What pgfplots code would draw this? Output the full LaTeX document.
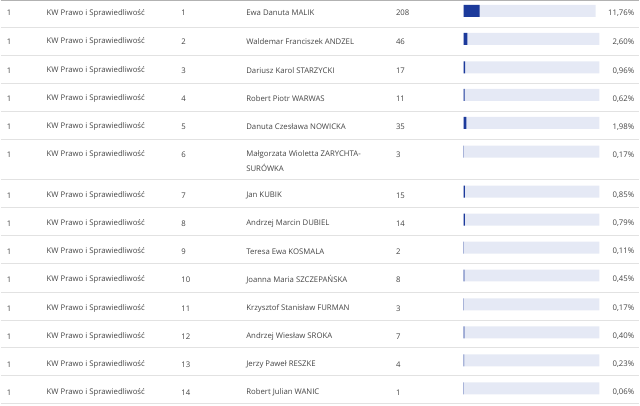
\documentclass[border=0pt]{standalone}
\usepackage{fontspec}
\setmainfont{Open Sans}
\usepackage{pgfplots}
\usepackage{pgfplotstable}
\pgfplotsset{compat=1.18}
\definecolor{txt}{HTML}{444444}
\definecolor{barblue}{HTML}{1C3A9B}
\definecolor{track}{HTML}{E5E9F5}
\definecolor{sep}{HTML}{E2E2E2}

% one row per candidate: text y, bar y (pixels from top), columns of the table
\pgfplotstableread[col sep=semicolon,row sep=\\]{
ty;by;okr;kw;nr;glosy;pct;tor\\
13;11;1;KW Prawo i Sprawiedliwość;1;208;11.76;97.1\\
42;39;1;KW Prawo i Sprawiedliwość;2;46;2.60;100\\
71;67.5;1;KW Prawo i Sprawiedliwość;3;17;0.96;100\\
99;95;1;KW Prawo i Sprawiedliwość;4;11;0.62;100\\
127;123;1;KW Prawo i Sprawiedliwość;5;35;1.98;100\\
155;152;1;KW Prawo i Sprawiedliwość;6;3;0.17;100\\
196;192;1;KW Prawo i Sprawiedliwość;7;15;0.85;100\\
224;220;1;KW Prawo i Sprawiedliwość;8;14;0.79;100\\
252;248;1;KW Prawo i Sprawiedliwość;9;2;0.11;100\\
280;276;1;KW Prawo i Sprawiedliwość;10;8;0.45;100\\
309;305;1;KW Prawo i Sprawiedliwość;11;3;0.17;100\\
337;333;1;KW Prawo i Sprawiedliwość;12;7;0.40;100\\
365;361;1;KW Prawo i Sprawiedliwość;13;4;0.23;100\\
393;389;1;KW Prawo i Sprawiedliwość;14;1;0.06;100\\
}\rows

% names, one line each
\pgfplotstableread[col sep=semicolon,row sep=\\]{
ty;name\\
13;Ewa Danuta MALIK\\
42;Waldemar Franciszek ANDZEL\\
71;Dariusz Karol STARZYCKI\\
99;Robert Piotr WARWAS\\
127;Danuta Czesława NOWICKA\\
155;Małgorzata Wioletta ZARYCHTA-\\
168;SURÓWKA\\
196;Jan KUBIK\\
224;Andrzej Marcin DUBIEL\\
252;Teresa Ewa KOSMALA\\
280;Joanna Maria SZCZEPAŃSKA\\
309;Krzysztof Stanisław FURMAN\\
337;Andrzej Wiesław SROKA\\
365;Jerzy Paweł RESZKE\\
393;Robert Julian WANIC\\
}\names

\pgfplotsset{
  frame/.style={scale only axis, width=640bp, height=406bp,
    ymin=0, ymax=406, y dir=reverse,
    axis line style={draw=none}, xtick=\empty, major tick length=0pt,
    clip=false},
  txtcol/.style={mark=none, point meta=explicit symbolic, nodes near coords,
    every node near coord/.append style={anchor=west, inner sep=0pt,
      text=txt, font=\fontsize{7.8}{9.5}\selectfont}},
}

\begin{document}
\begin{tikzpicture}
% layer 1: pixel coordinates, row rules and text
\begin{axis}[frame, xmin=0, xmax=640,
  ytick={27.5,55.5,83.5,111.5,139.5,179.5,207.5,235.5,264,292.5,320.5,348.5,376.5,404.5},
  yticklabels={}, yticklabel style={overlay, inner sep=0pt},
  ymajorgrids, grid style={sep, line width=0.8pt},
  extra y ticks={0.6}, extra y tick labels={},
  extra y tick style={yticklabel style={overlay, inner sep=0pt},
    grid style={color=black!30, line width=1.2pt}}]
\addplot[txtcol, draw=none] table[x expr=6, y=ty, meta=okr] {\rows};
\addplot[txtcol, draw=none] table[x expr=46, y=ty, meta=kw] {\rows};
\addplot[txtcol, draw=none] table[x expr=181, y=ty, meta=nr] {\rows};
\addplot[txtcol, draw=none] table[x expr=246, y=ty, meta=name] {\names};
\addplot[txtcol, draw=none] table[x expr=396, y=ty, meta=glosy] {\rows};
\addplot[draw=none, mark=none,
  point meta=\thisrow{pct}, nodes near coords={\pgfmathprintnumber[fixed,fixed zerofill,precision=2,use comma,assume math mode=true]{\pgfplotspointmeta}\%},
  every node near coord/.append style={anchor=east, inner sep=0pt,
    text=txt, font=\fontsize{7.8}{9.5}\selectfont}]
  table[x expr=635, y=ty] {\rows};
\end{axis}
% layer 2: percent scale, 0 at pixel 464 and 100 at pixel 600
\begin{axis}[frame, xmin=-341.18, xmax=129.41, ytick=\empty]
\addplot[xbar, bar shift=0pt, bar width=12, fill=track, draw=none]
  table[x=tor, y=by] {\rows};
\addplot[xbar, bar shift=0pt, bar width=12, fill=barblue, draw=none]
  table[x=pct, y=by] {\rows};
\end{axis}
\end{tikzpicture}
\end{document}
